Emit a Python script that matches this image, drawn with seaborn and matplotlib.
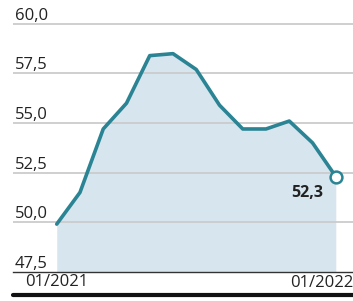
import matplotlib
matplotlib.use("Agg")
import matplotlib.pyplot as plt
import matplotlib.transforms as mtransforms
from matplotlib.lines import Line2D
import pandas as pd
import seaborn as sns

# monthly values, 01/2021 .. 01/2022
months = ["01/2021", "02/2021", "03/2021", "04/2021", "05/2021", "06/2021",
          "07/2021", "08/2021", "09/2021", "10/2021", "11/2021", "12/2021",
          "01/2022"]
values = [49.9, 51.5, 54.7, 56.0, 58.4, 58.5, 57.7, 55.9, 54.7, 54.7, 55.1, 54.0, 52.3]
y_ticks = [47.5, 50.0, 52.5, 55.0, 57.5, 60.0]
x_labels = ["01/2021", "01/2022"]

line_col = "#2a8494"
fill_col = "#d7e5ef"
grid_col = "#cbcbcb"
text_col = "#222222"

sns.set_style("white")
plt.rcParams["font.family"] = ["Open Sans", "DejaVu Sans"]

df = pd.DataFrame({"month": months, "value": values})
df["pos"] = range(len(df))

fig = plt.figure(figsize=(3.53, 3.01), dpi=100)
ax = fig.add_axes([13 / 353, (301 - 271.7) / 301, 340 / 353, (271.7 - 14) / 301])

ax.fill_between(df["pos"], df["value"], 47.5, color=fill_col, lw=0, zorder=1)
for yv in y_ticks[1:]:
    ax.axhline(yv, color=grid_col, lw=1.3, zorder=1.5)
sns.lineplot(data=df, x="pos", y="value", ax=ax, color=line_col, lw=2.6, zorder=3)
ax.plot(df["pos"].iloc[-1], df["value"].iloc[-1], "o", ms=8.5, mfc="white",
        mec=line_col, mew=1.8, zorder=4)
ax.annotate(f"{values[-1]:.1f}".replace(".", ","), (df["pos"].iloc[-1], values[-1]),
            xytext=(-9, -12), textcoords="offset points", ha="right", va="center",
            fontsize=11.5, fontweight="bold", color=text_col)

ax.set_xlim(-1.88, 12.74)
ax.set_ylim(47.5, 60.5)

# y labels sit above the gridlines, inside the plot
trans = mtransforms.blended_transform_factory(ax.transAxes, ax.transData)
for yv in y_ticks:
    ax.text(0.005, yv, f"{yv:.1f}".replace(".", ","), transform=trans,
            ha="left", va="bottom", fontsize=12, color=text_col)
ax.set_yticks([])

ax.set_xticks(df["pos"])
lbls = [m if m == x_labels[0] else "" for m in df["month"]]
ax.set_xticklabels(lbls, fontsize=12, color=text_col)
ax.tick_params(axis="x", direction="in", length=6, width=1, color="#333333", pad=2)
# last label is right-aligned to the chart edge
ax.annotate(x_labels[1], (1, 0), xycoords="axes fraction",
            xytext=(0, -3), textcoords="offset pixels", ha="right", va="top",
            fontsize=12, color=text_col, annotation_clip=False)

ax.set_xlabel("")
ax.set_ylabel("")
for s in ["top", "right", "left"]:
    ax.spines[s].set_visible(False)
ax.spines["bottom"].set_color("#333333")
ax.spines["bottom"].set_linewidth(1)

fig.add_artist(Line2D([13 / 353, 1], [(301 - 295) / 301] * 2, color="#111111", lw=3,
                      transform=fig.transFigure))

fig.savefig("out.png", dpi=100)
